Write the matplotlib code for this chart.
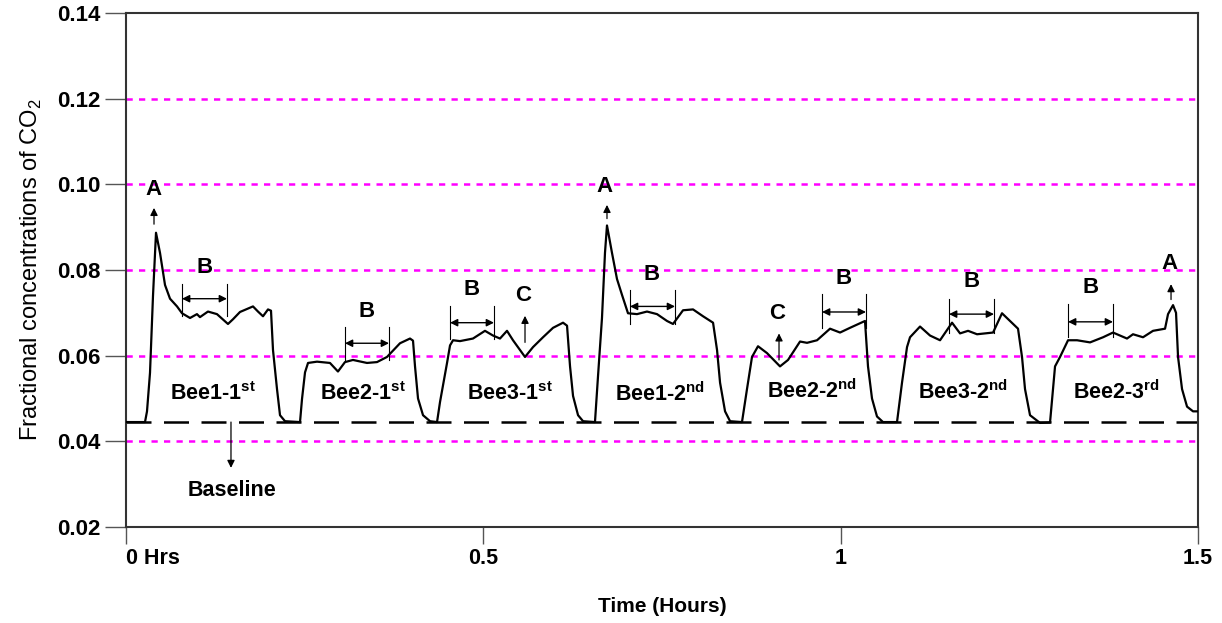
import matplotlib
matplotlib.use("Agg")
import matplotlib.pyplot as plt

plt.rcParams['font.family'] = ['Liberation Sans', 'DejaVu Sans']
plt.rcParams['mathtext.fontset'] = 'custom'
plt.rcParams['mathtext.rm'] = 'Liberation Sans'
plt.rcParams['mathtext.bf'] = 'Liberation Sans:bold'

# Time (hours) and CO2 fractional concentration
time_h = [0.0014, 0.0266, 0.0294, 0.0336, 0.0378, 0.0420, 0.0476, 0.0546, 0.0616, 0.0714,
          0.0784, 0.0896, 0.0993, 0.1035, 0.1147, 0.1273, 0.1427, 0.1497, 0.1595, 0.1777,
          0.1847, 0.1917, 0.1987, 0.2029, 0.2057, 0.2113, 0.2155, 0.2225, 0.2435, 0.2463,
          0.2505, 0.2547, 0.2673, 0.2854, 0.2966, 0.3064, 0.3176, 0.3372, 0.3512, 0.3652,
          0.3834, 0.3974, 0.4016, 0.4044, 0.4086, 0.4156, 0.4254, 0.4352, 0.4394, 0.4492,
          0.4534, 0.4576, 0.4673, 0.4855, 0.5023, 0.5135, 0.5233, 0.5331, 0.5415, 0.5513,
          0.5583, 0.5695, 0.5835, 0.5975, 0.6115, 0.6171, 0.6213, 0.6255, 0.6325, 0.6395,
          0.6562, 0.6604, 0.6660, 0.6702, 0.6730, 0.6800, 0.6870, 0.6940, 0.7024, 0.7150,
          0.7290, 0.7430, 0.7570, 0.7654, 0.7794, 0.7934, 0.8074, 0.8214, 0.8270, 0.8312,
          0.8382, 0.8452, 0.8619, 0.8689, 0.8759, 0.8843, 0.8969, 0.9151, 0.9263, 0.9431,
          0.9529, 0.9669, 0.9851, 0.9991, 1.0130, 1.0340, 1.0382, 1.0438, 1.0508, 1.0592,
          1.0788, 1.0858, 1.0928, 1.0970, 1.1110, 1.1250, 1.1390, 1.1558, 1.1670, 1.1782,
          1.1908, 1.2132, 1.2257, 1.2369, 1.2481, 1.2537, 1.2579, 1.2649, 1.2789, 1.2929,
          1.2999, 1.3069, 1.3181, 1.3307, 1.3489, 1.3671, 1.3810, 1.4006, 1.4090, 1.4230,
          1.4370, 1.4538, 1.4580, 1.4650, 1.4692, 1.4720, 1.4776, 1.4846, 1.4930, 1.5000]
co2 = [0.0445, 0.0445, 0.0470, 0.0560, 0.0740, 0.0887, 0.0840, 0.0765, 0.0733, 0.0715,
       0.0699, 0.0688, 0.0697, 0.0690, 0.0703, 0.0697, 0.0674, 0.0685, 0.0702, 0.0715,
       0.0703, 0.0692, 0.0708, 0.0705, 0.0613, 0.0522, 0.0461, 0.0447, 0.0445, 0.0499,
       0.0561, 0.0583, 0.0586, 0.0583, 0.0563, 0.0585, 0.0590, 0.0583, 0.0585, 0.0597,
       0.0629, 0.0640, 0.0635, 0.0575, 0.0500, 0.0461, 0.0447, 0.0445, 0.0492, 0.0583,
       0.0624, 0.0636, 0.0634, 0.0640, 0.0658, 0.0647, 0.0640, 0.0658, 0.0636, 0.0613,
       0.0597, 0.0620, 0.0643, 0.0665, 0.0677, 0.0670, 0.0575, 0.0506, 0.0461, 0.0447,
       0.0445, 0.0551, 0.0688, 0.0840, 0.0904, 0.0840, 0.0779, 0.0742, 0.0699, 0.0697,
       0.0703, 0.0697, 0.0681, 0.0674, 0.0706, 0.0708, 0.0692, 0.0677, 0.0613, 0.0537,
       0.0470, 0.0447, 0.0445, 0.0522, 0.0597, 0.0622, 0.0606, 0.0575, 0.0590, 0.0633,
       0.0630, 0.0636, 0.0663, 0.0654, 0.0665, 0.0681, 0.0575, 0.0500, 0.0458, 0.0445,
       0.0445, 0.0537, 0.0620, 0.0643, 0.0668, 0.0647, 0.0636, 0.0677, 0.0652, 0.0658,
       0.0650, 0.0654, 0.0699, 0.0681, 0.0663, 0.0597, 0.0522, 0.0461, 0.0443, 0.0444,
       0.0575, 0.0597, 0.0636, 0.0636, 0.0631, 0.0643, 0.0654, 0.0640, 0.0650, 0.0643,
       0.0658, 0.0663, 0.0697, 0.0718, 0.0700, 0.0597, 0.0522, 0.0481, 0.0470, 0.0470]

baseline = 0.0445
y_ticks = [0.02, 0.04, 0.06, 0.08, 0.10, 0.12, 0.14]
y_ticklabels = ['0.02', '0.04', '0.06', '0.08', '0.10', '0.12', '0.14']
x_ticks = [0, 0.5, 1, 1.5]
x_ticklabels = ['0 Hrs', '0.5', '1', '1.5']
grid_levels = [0.04, 0.06, 0.08, 0.10, 0.12]

fig = plt.figure(figsize=(12.22, 6.23), dpi=100)
ax = fig.add_axes([0.1031, 0.1541, 0.8773, 0.825])

for g in grid_levels:
    ax.axhline(g, color='#FF00FF', lw=1.8, ls=(0, (2.5, 2.5)), zorder=1)

ax.axhline(baseline, color='black', lw=1.8, ls=(0, (10, 5)), zorder=2)
ax.plot(time_h, co2, color='black', lw=1.6, zorder=3)

ax.set_xlim(0, 1.5)
ax.set_ylim(0.02, 0.14)
ax.set_xticks(x_ticks)
ax.set_xticklabels(x_ticklabels, fontsize=15.5, fontweight='bold')
ax.set_yticks(y_ticks)
ax.set_yticklabels(y_ticklabels, fontsize=16, fontweight='bold')
lab0 = ax.get_xticklabels()[0]
lab0.set_horizontalalignment('left')
lab0.set_x(-0.005)
ax.tick_params(axis='y', direction='out', length=15, width=1, color='#555555', pad=3)
ax.tick_params(axis='x', direction='out', length=12, width=1, color='#555555', pad=3)
for s in ax.spines.values():
    s.set_color('#333333')
    s.set_linewidth(1.5)

ax.set_xlabel('Time (Hours)', fontsize=15, fontweight='bold', va='center')
ax.xaxis.set_label_coords(0.5, -0.1556)
ax.set_ylabel('Fractional concentrations of CO$_\\mathrm{2}$', fontsize=17, labelpad=10)

tk = dict(fontsize=15.5, fontweight='bold', ha='center', va='center')
tl = dict(fontsize=16, fontweight='bold', ha='center', va='center')


def up_arrow(x, y0, y1):
    ax.annotate('', xy=(x, y1), xytext=(x, y0),
                arrowprops=dict(arrowstyle='-|>', lw=0.9, color='black',
                                mutation_scale=11, shrinkA=0, shrinkB=0))


# A peaks
ax.text(0.0378, 0.0988, 'A', **tl)
up_arrow(0.0392, 0.0907, 0.0945)
ax.text(0.6702, 0.0995, 'A', **tl)
up_arrow(0.6730, 0.0920, 0.0952)
ax.text(1.4594, 0.0815, 'A', **tl)
up_arrow(1.4622, 0.0731, 0.0767)

# C markers
ax.text(0.5555, 0.0740, 'C', **tl)
up_arrow(0.5583, 0.0631, 0.0693)
ax.text(0.9109, 0.0699, 'C', **tl)
up_arrow(0.9137, 0.0590, 0.0652)


# B spans
def bspan(x0, x1, ylo, yhi, yarr, xt, yt):
    ax.plot([x0, x0], [ylo, yhi], color='black', lw=0.8)
    ax.plot([x1, x1], [ylo, yhi], color='black', lw=0.8)
    ax.annotate('', xy=(x1, yarr), xytext=(x0, yarr),
                arrowprops=dict(arrowstyle='<|-|>', lw=1.0, color='black',
                                mutation_scale=11, shrinkA=0, shrinkB=0))
    ax.text(xt, yt, 'B', **tl)


bspan(0.0784, 0.1413, 0.0693, 0.0767, 0.0733, 0.1105, 0.0806)
bspan(0.3064, 0.3680, 0.0590, 0.0668, 0.0629, 0.3372, 0.0704)
bspan(0.4534, 0.5149, 0.0640, 0.0715, 0.0677, 0.4841, 0.0754)
bspan(0.7052, 0.7682, 0.0674, 0.0754, 0.0715, 0.7360, 0.0790)
bspan(0.9739, 1.0354, 0.0665, 0.0743, 0.0702, 1.0046, 0.0781)
bspan(1.1516, 1.2145, 0.0654, 0.0733, 0.0697, 1.1837, 0.0774)
bspan(1.3181, 1.3810, 0.0643, 0.0720, 0.0679, 1.3503, 0.0758)

# Bee labels
bees = [(0.1217, 0.0511, 'Bee1-1$^{\\mathbf{st}}$'),
        (0.3316, 0.0511, 'Bee2-1$^{\\mathbf{st}}$'),
        (0.5373, 0.0511, 'Bee3-1$^{\\mathbf{st}}$'),
        (0.7472, 0.0511, 'Bee1-2$^{\\mathbf{nd}}$'),
        (0.9599, 0.0517, 'Bee2-2$^{\\mathbf{nd}}$'),
        (1.1712, 0.0515, 'Bee3-2$^{\\mathbf{nd}}$'),
        (1.3852, 0.0515, 'Bee2-3$^{\\mathbf{rd}}$')]
for bx, by, bt in bees:
    ax.text(bx, by, bt, **tk)

# Baseline annotation
ax.annotate('', xy=(0.1469, 0.0338), xytext=(0.1469, baseline),
            arrowprops=dict(arrowstyle='-|>', lw=0.9, color='black',
                            mutation_scale=11, shrinkA=0, shrinkB=0))
ax.text(0.1483, 0.0286, 'Baseline', **tk)

fig.savefig('out.png', dpi=100)
